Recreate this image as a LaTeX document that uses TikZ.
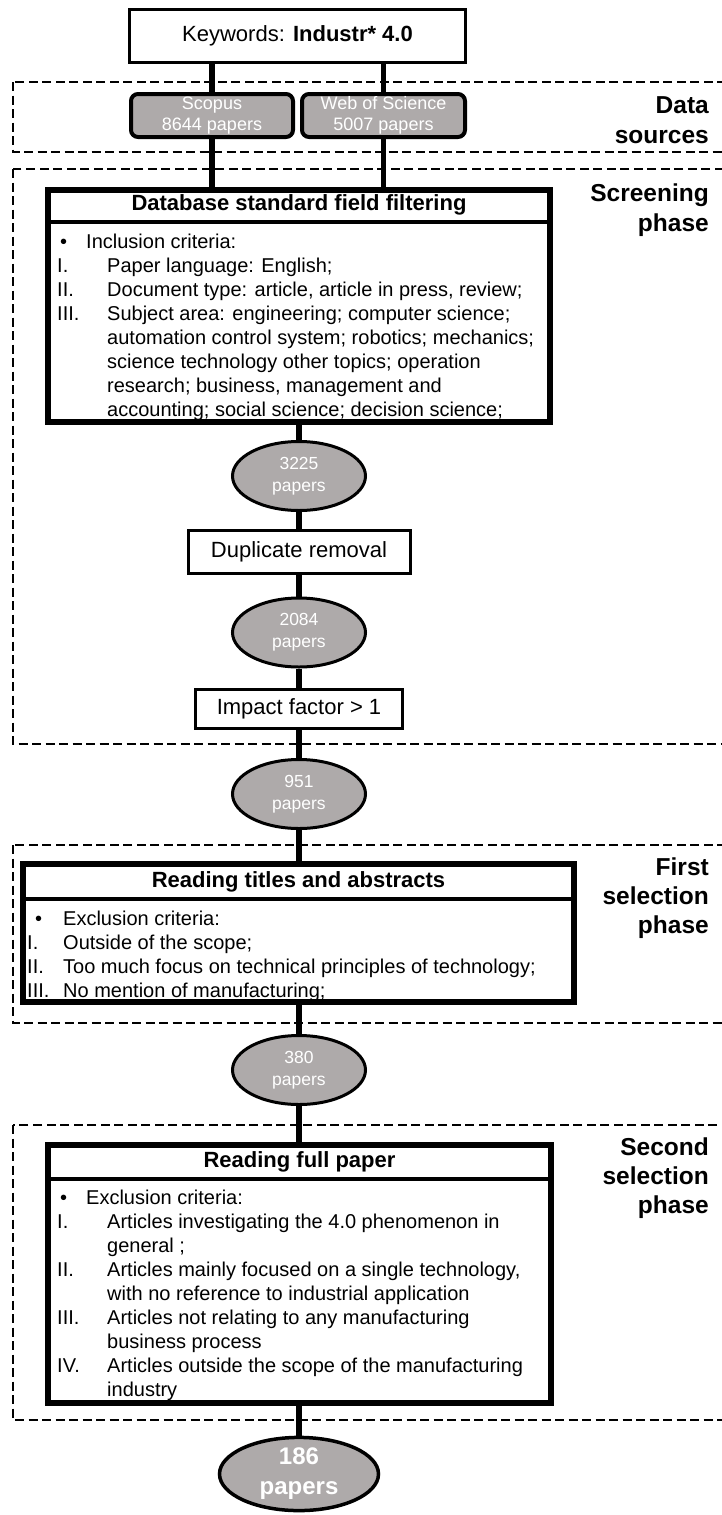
\documentclass[tikz,border=0pt]{standalone}
\usepackage{fontspec}
\setmainfont{Liberation Sans}
\usetikzlibrary{shapes.geometric,backgrounds}
\definecolor{boxgray}{HTML}{AEAAAA}
\tikzset{
  phasebox/.style={draw=black, line width=2.2pt, dash pattern=on 9pt off 4.5pt},
  link/.style={line width=5.5pt},
  plainbox/.style={draw, line width=3pt, fill=white, inner sep=0pt, font=\fontsize{22}{26}\selectfont},
  bigbox/.style={draw, line width=6pt, fill=white, inner sep=0pt},
  sepline/.style={line width=4pt},
  source/.style={draw, line width=4pt, fill=boxgray, rounded corners=7pt, text=white,
    align=center, inner sep=0pt, font=\fontsize{18}{21}\selectfont},
  countnode/.style={ellipse, draw, line width=3pt, fill=boxgray, text=white,
    align=center, inner sep=0pt, font=\fontsize{17.5}{22}\selectfont},
  ttl/.style={inner sep=0pt, font=\fontsize{22}{26}\selectfont\bfseries},
  ln/.style={anchor=base west, inner sep=0pt, font=\fontsize{20}{24}\selectfont},
  lbl/.style={anchor=base east, inner sep=0pt, font=\fontsize{24.5}{29}\selectfont\bfseries},
}
\begin{document}
\begin{tikzpicture}[x=1pt,y=-1pt]
\useasboundingbox (0,0) rectangle (721,1515);

% --- boxes and counts ---
\node[plainbox, minimum width=336pt, minimum height=53pt] (kw) at (297.5,36) {Keywords: \textbf{Industr* 4.0}};

\node[source, minimum width=162pt, minimum height=43pt] (scopus) at (212,115.5) {Scopus\\8644 papers};
\node[source, minimum width=163pt, minimum height=43pt] (wos) at (383.5,115.5) {Web of Science\\5007 papers};

\node[bigbox, minimum width=502pt, minimum height=232pt] (db) at (299,306) {};
\draw[sepline] (db.west |- 0,222) -- (db.east |- 0,222);
\node[ttl] (dbt) at (299,205) {Database standard field filtering};
\node[ln] (dbb) at (60,248) {•};
\node[ln] (dbb1) at (86,248) {Inclusion criteria:};
\node[ln] (dbn1) at (57,272) {I.};
\node[ln] (dbl1) at (107,272) {Paper language: English;};
\node[ln] (dbn2) at (57,296) {II.};
\node[ln] (dbl2) at (107,296) {Document type: article, article in press, review;};
\node[ln] (dbn3) at (57,320) {III.};
\node[ln] (dbl3) at (107,320) {Subject area: engineering; computer science;};
\node[ln] (dbl4) at (107,344) {automation control system; robotics; mechanics;};
\node[ln] (dbl5) at (107,368) {science technology other topics; operation};
\node[ln] (dbl6) at (107,392) {research; business, management and};
\node[ln] (dbl7) at (107,416) {accounting; social science; decision science;};

\node[countnode, minimum width=133pt, minimum height=69pt] (n3225) at (299,476) {3225\\papers};
\node[plainbox, minimum width=222pt, minimum height=43pt] (dup) at (299,552) {Duplicate removal};
\node[countnode, minimum width=133pt, minimum height=69pt] (n2084) at (299,632.5) {2084\\papers};
\node[plainbox, minimum width=207pt, minimum height=39pt] (imp) at (299,709) {Impact factor > 1};
\node[countnode, minimum width=133pt, minimum height=69pt] (n951) at (299,794) {951\\papers};

\node[bigbox, minimum width=551pt, minimum height=138pt] (rt) at (298.5,933) {};
\draw[sepline] (rt.west |- 0,899) -- (rt.east |- 0,899);
\node[ttl] (rtt) at (298.5,882) {Reading titles and abstracts};
\node[ln] (rtb) at (35,925) {•};
\node[ln] (rtb1) at (63,925) {Exclusion criteria:};
\node[ln] (rtn1) at (27,949) {I.};
\node[ln] (rtl1) at (63,949) {Outside of the scope;};
\node[ln] (rtn2) at (27,973) {II.};
\node[ln] (rtl2) at (63,973) {Too much focus on technical principles of technology;};
\node[ln] (rtn3) at (27,997) {III.};
\node[ln] (rtl3) at (63,997) {No mention of manufacturing;};

\node[countnode, minimum width=133pt, minimum height=69pt] (n380) at (299,1070) {380\\papers};

\node[bigbox, minimum width=503pt, minimum height=258pt] (rf) at (299.5,1274) {};
\draw[sepline] (rf.west |- 0,1179) -- (rf.east |- 0,1179);
\node[ttl] (rft) at (299.5,1162) {Reading full paper};
\node[ln] (rfb) at (60,1204) {•};
\node[ln] (rfb1) at (86,1204) {Exclusion criteria:};
\node[ln] (rfn1) at (57,1228) {I.};
\node[ln] (rfl1) at (107,1228) {Articles investigating the 4.0 phenomenon in};
\node[ln] (rfl2) at (107,1252) {general ;};
\node[ln] (rfn2) at (57,1276) {II.};
\node[ln] (rfl3) at (107,1276) {Articles mainly focused on a single technology,};
\node[ln] (rfl4) at (107,1300) {with no reference to industrial application};
\node[ln] (rfn3) at (57,1324) {III.};
\node[ln] (rfl5) at (107,1324) {Articles not relating to any manufacturing};
\node[ln] (rfl6) at (107,1348) {business process};
\node[ln] (rfn4) at (57,1372) {IV.};
\node[ln] (rfl7) at (107,1372) {Articles outside the scope of the manufacturing};
\node[ln] (rfl8) at (107,1396) {industry};

\node[countnode, line width=3.5pt, minimum width=159pt, minimum height=73pt,
  font=\fontsize{24}{30}\selectfont\bfseries] (n186) at (299,1474) {186\\papers};

% --- phase labels ---
\node[lbl] (ds1) at (709,113) {Data};
\node[lbl] (ds2) at (709,143) {sources};
\node[lbl] (sp1) at (709,201) {Screening};
\node[lbl] (sp2) at (709,231) {phase};
\node[lbl] (fs1) at (709,875) {First};
\node[lbl] (fs2) at (709,904) {selection};
\node[lbl] (fs3) at (709,933) {phase};
\node[lbl] (ss1) at (709,1155) {Second};
\node[lbl] (ss2) at (709,1184) {selection};
\node[lbl] (ss3) at (709,1213) {phase};

% --- phase frames and connectors behind the boxes ---
\begin{pgfonlayer}{background}
  \draw[phasebox] (13,82) rectangle (745,152);
  \draw[phasebox] (13,169) rectangle (745,744);
  \draw[phasebox] (13,845) rectangle (745,1023);
  \draw[phasebox] (13,1125) rectangle (745,1420);
  \draw[link] (kw.south -| scopus) -- (scopus.north);
  \draw[link] (kw.south -| wos) -- (wos.north);
  \draw[link] (scopus.south) -- (db.north -| scopus);
  \draw[link] (wos.south) -- (db.north -| wos);
  \draw[link] (db.south) -- (n3225.north);
  \draw[link] (n3225.south) -- (dup.north);
  \draw[link] (dup.south) -- (n2084.north);
  \draw[link] (n2084.south) -- (imp.north);
  \draw[link] (imp.south) -- (n951.north);
  \draw[link] (n951.south) -- (rt.north -| n951);
  \draw[link] (rt.south -| n380) -- (n380.north);
  \draw[link] (n380.south) -- (rf.north -| n380);
  \draw[link] (rf.south -| n186) -- (n186.north);
\end{pgfonlayer}
\end{tikzpicture}
\end{document}
